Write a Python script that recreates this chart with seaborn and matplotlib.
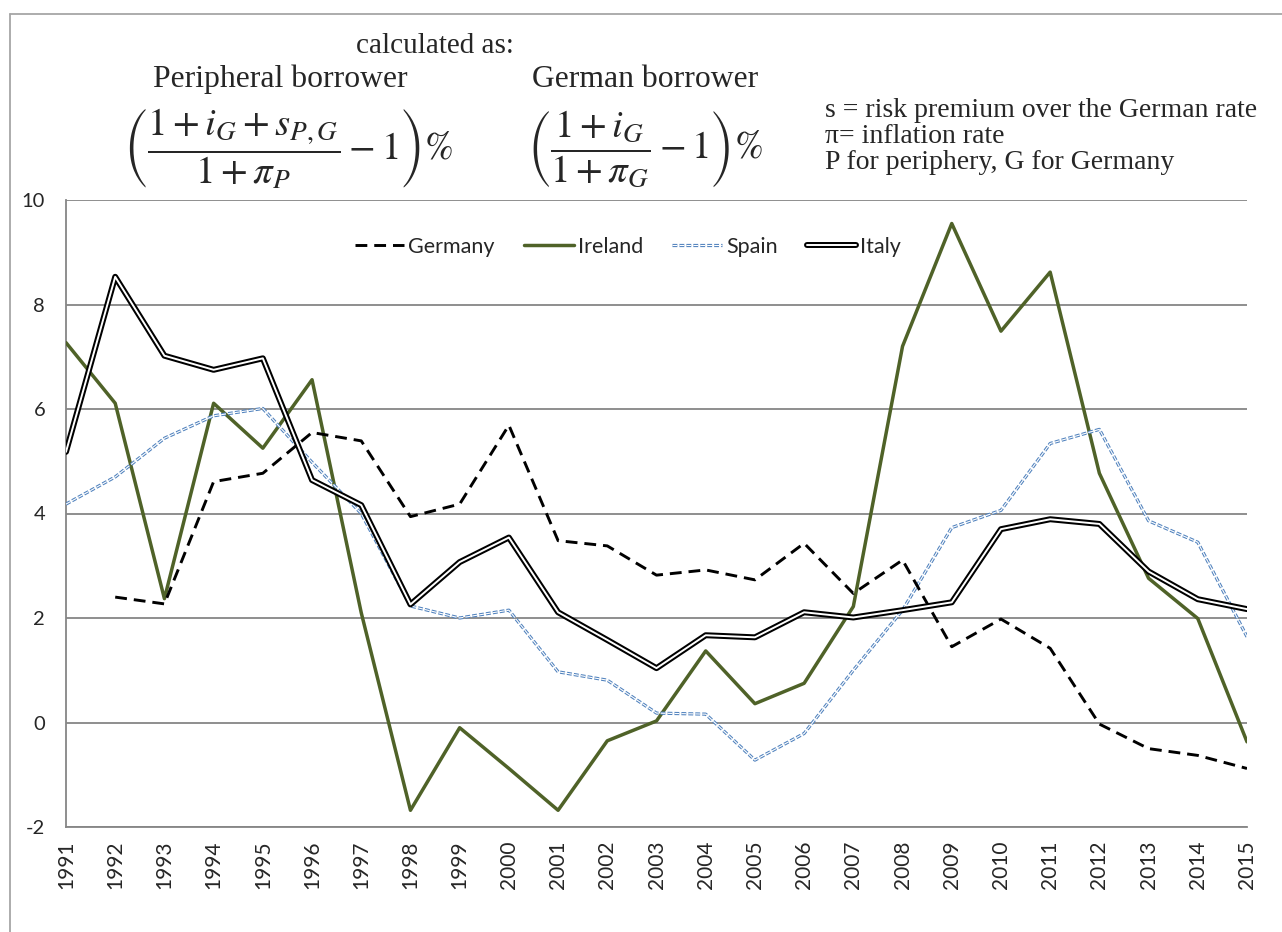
import numpy as np
import pandas as pd
import matplotlib
matplotlib.use("Agg")
import matplotlib.pyplot as plt
import seaborn as sns
from matplotlib.lines import Line2D

years = list(range(1991, 2016))
germany = [np.nan, 2.40, 2.27, 4.61, 4.77, 5.55, 5.39, 3.94, 4.18, 5.69, 3.48, 3.38, 2.82,
           2.92, 2.73, 3.43, 2.47, 3.11, 1.45, 1.98, 1.42, -0.03, -0.50, -0.63, -0.88]
ireland = [7.27, 6.11, 2.37, 6.11, 5.25, 6.56, 2.10, -1.68, -0.10, -0.88, -1.68, -0.35, 0.03,
           1.37, 0.36, 0.75, 2.22, 7.20, 9.55, 7.49, 8.62, 4.77, 2.76, 1.99, -0.37]
spain = [4.18, 4.70, 5.44, 5.87, 6.01, 4.98, 4.00, 2.23, 2.00, 2.15, 0.97, 0.81, 0.18,
         0.16, -0.72, -0.21, 1.00, 2.15, 3.73, 4.06, 5.34, 5.61, 3.86, 3.45, 1.64]
italy = [5.18, 8.53, 7.02, 6.75, 6.97, 4.64, 4.16, 2.26, 3.07, 3.54, 2.11, 1.58, 1.04,
         1.67, 1.63, 2.11, 2.01, 2.15, 2.30, 3.70, 3.89, 3.80, 2.89, 2.36, 2.17]

df = pd.DataFrame({"year": years, "Germany": germany, "Ireland": ireland,
                   "Spain": spain, "Italy": italy})

sns.set_style("white")
plt.rcParams["font.family"] = ["Lato", "DejaVu Sans"]
plt.rcParams["axes.unicode_minus"] = False
plt.rcParams["lines.scale_dashes"] = False
plt.rcParams["mathtext.fontset"] = "stix"

W, H = 1282, 932
fig = plt.figure(figsize=(W / 100, H / 100), dpi=100)
ax = fig.add_axes([66 / W, 1 - 827 / H, (1247 - 66) / W, (827 - 200) / H])

grey = "#868686"
olive = "#4F6228"
blue = "#4F81BD"

germ_dash = (0, (8.5, 5))
spain_dash = (0, (3.5, 1.5))

sns.lineplot(data=df, x="year", y="Germany", ax=ax, color="black", lw=2.1,
             linestyle=germ_dash, zorder=4)
sns.lineplot(data=df, x="year", y="Ireland", ax=ax, color=olive, lw=2.5, zorder=3)
sns.lineplot(data=df, x="year", y="Spain", ax=ax, color=blue, lw=2.3,
             linestyle=spain_dash, zorder=3)
sns.lineplot(data=df, x="year", y="Spain", ax=ax, color="white", lw=0.8,
             linestyle=spain_dash, zorder=3)
sns.lineplot(data=df, x="year", y="Italy", ax=ax, color="black", lw=4.3, zorder=5)
sns.lineplot(data=df, x="year", y="Italy", ax=ax, color="white", lw=1.4, zorder=5)

ax.set_xlim(1991, 2015)
ax.set_ylim(-2, 10)
ax.set_yticks(range(-2, 11, 2))
ax.set_xticks(years)
ax.set_xticklabels([str(y) for y in years], rotation=90, fontsize=15)
ax.tick_params(axis="y", labelsize=14.5, length=5, color=grey, width=1.2, pad=10)
ax.tick_params(axis="x", length=7, color=grey, width=1.2, pad=3)
ax.set_xlabel("")
ax.set_ylabel("")
ax.grid(axis="y", color=grey, lw=1.3)
ax.set_axisbelow(True)
for side in ["top", "right"]:
    ax.spines[side].set_visible(False)
for side in ["left", "bottom"]:
    ax.spines[side].set_color(grey)
    ax.spines[side].set_linewidth(1.3)

# legend with compound line handles
h_germ = Line2D([], [], color="black", lw=2.1, linestyle=germ_dash)
h_irl = Line2D([], [], color=olive, lw=2.5)
h_esp = (Line2D([], [], color=blue, lw=2.3, linestyle=spain_dash),
         Line2D([], [], color="white", lw=0.8, linestyle=spain_dash))
h_ita = (Line2D([], [], color="black", lw=4.3, solid_capstyle="round"),
         Line2D([], [], color="white", lw=1.4))
fig.legend([h_germ, h_irl, h_esp, h_ita], ["Germany", "Ireland", "Spain", "Italy"],
           loc="center", bbox_to_anchor=(628 / W, 1 - 247 / H), ncol=4, frameon=False,
           fontsize=15.5, handlelength=2.3, handletextpad=0.2, columnspacing=1.35)

# formula header
serif = ["Liberation Serif", "DejaVu Serif"]
fig.text(435 / W, 1 - 53 / H, "calculated as:", ha="center", va="baseline",
         fontsize=21, family=serif)
fig.text(280 / W, 1 - 87 / H, "Peripheral borrower", ha="center", va="baseline",
         fontsize=22.8, family=serif)
fig.text(645 / W, 1 - 87 / H, "German borrower", ha="center", va="baseline",
         fontsize=22.8, family=serif)
fig.text(288 / W, 1 - 149 / H, r"$\left(\dfrac{1+i_G+s_{P,G}}{1+\pi_P}-1\right)\%$",
         ha="center", va="center", fontsize=28)
fig.text(645 / W, 1 - 149 / H, r"$\left(\dfrac{1+i_G}{1+\pi_G}-1\right)\%$",
         ha="center", va="center", fontsize=28)
notes = ["s = risk premium over the German rate", "\u03c0= inflation rate",
         "P for periphery, G for Germany"]
for k, line in enumerate(notes):
    fig.text(825 / W, 1 - (117 + 26 * k) / H, line, ha="left", va="baseline",
             fontsize=20, family=serif)

# outer frame of the figure box
frame = dict(color="#A6A6A6", lw=1.3, transform=fig.transFigure)
fig.add_artist(Line2D([10 / W, 1], [1 - 14 / H, 1 - 14 / H], **frame))
fig.add_artist(Line2D([10 / W, 10 / W], [0, 1 - 14 / H], **frame))

fig.savefig("out.png", dpi=100)
